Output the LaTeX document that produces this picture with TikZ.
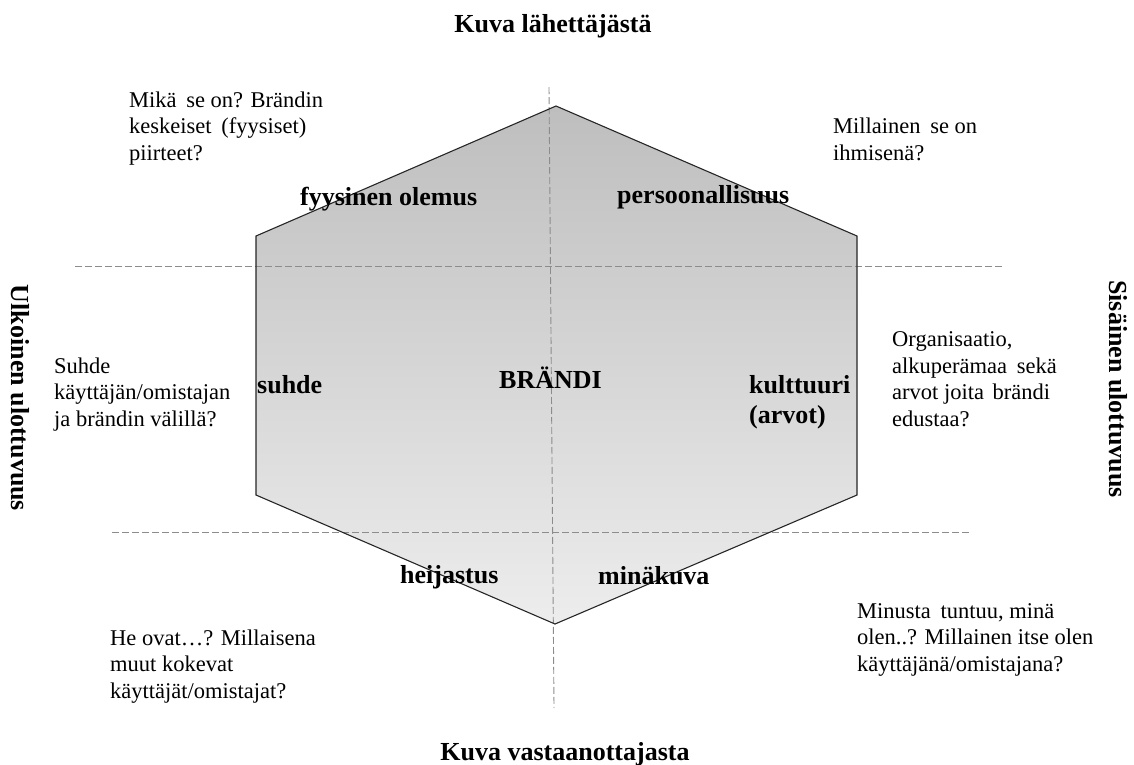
\documentclass[tikz,border=0pt]{standalone}
\usepackage{fontspec}
\setmainfont{Liberation Serif}
\definecolor{hextop}{RGB}{190,190,190}
\definecolor{hexbot}{RGB}{237,237,237}
\definecolor{guidegray}{RGB}{140,140,140}
\begin{document}
\begin{tikzpicture}[x=1pt,y=-1pt,
  hexedge/.style={draw=black!85, line width=1.1pt, line join=miter},
  guide/.style={draw=guidegray, line width=0.9pt, dash pattern=on 7pt off 3pt},
  heading/.style={font=\fontsize{26}{30}\selectfont\bfseries, inner sep=0pt},
  facet/.style={font=\fontsize{26}{30}\selectfont\bfseries, inner sep=0pt, anchor=base west, align=left},
  question/.style={font=\fontsize{22.5}{26.5}\selectfont, inner sep=0pt, anchor=base west, align=left},
]
\useasboundingbox (0,0) rectangle (1134,764);

% hexagon corners
\coordinate (T)  at (556,106);
\coordinate (UR) at (857,236);
\coordinate (LR) at (857,495);
\coordinate (B)  at (555,624);
\coordinate (LL) at (256,495);
\coordinate (UL) at (256,236);

% ends of the dashed axes
\coordinate (vtop) at (549,87);
\coordinate (vbot) at (554,708);
\coordinate (h1l) at (75,266);
\coordinate (h1r) at (1003,266);
\coordinate (h2l) at (112,532);
\coordinate (h2r) at (972,532);

% shaded prism
\shade[top color=hextop, bottom color=hexbot] (T) -- (UR) -- (LR) -- (B) -- (LL) -- (UL) -- cycle;

% dashed axes
\draw[guide] (vtop) -- (vbot);
\draw[guide] (h1l) -- (h1r);
\draw[guide] (h2l) -- (h2r);

% outline
\draw[hexedge] (T) -- (UR) -- (LR) -- (B) -- (LL) -- (UL) -- cycle;

% headings
\node[heading, anchor=base] (sender) at (553,32) {Kuva lähettäjästä};
\node[heading, anchor=base] (receiver) at (565,760) {Kuva vastaanottajasta};
\node[heading, rotate=-90] (outer) at (20,398) {Ulkoinen ulottuvuus};
\node[heading, rotate=-90] (inner) at (1118,389) {Sisäinen ulottuvuus};

% facets (multi-line nodes sit on the baseline of their last line)
\node[facet] (physique) at (300,205) {fyysinen olemus};
\node[facet] (personality) at (617,203) {persoonallisuus};
\node[facet] (relationship) at (257,393) {suhde};
\node[facet] (brand) at (499,388) {BRÄNDI};
\node[facet] (culture) at (749,423) {kulttuuri\\(arvot)};
\node[facet] (reflection) at (400,583) {heijastus};
\node[facet] (selfimage) at (598,584) {minäkuva};

% questions
\node[question] (qphysique) at (129,160) {Mikä\hspace{4pt} se on? Brändin\\keskeiset\hspace{4pt} (fyysiset)\\piirteet?};
\node[question] (qpersonality) at (833,160) {Millainen\hspace{4pt} se on\\ihmisenä?};
\node[question] (qrelationship) at (54,426) {Suhde\\käyttäjän/omistajan\\ja brändin välillä?};
\node[question] (qculture) at (892,426) {Organisaatio,\\alkuperämaa\hspace{4pt} sekä\\arvot joita\hspace{3pt} brändi\\edustaa?};
\node[question] (qreflection) at (110,698) {He ovat…? Millaisena\\muut kokevat\\käyttäjät/omistajat?};
\node[question] (qselfimage) at (857,671) {Minusta\hspace{4pt} tuntuu, minä\\olen..? Millainen itse olen\\käyttäjänä/omistajana?};
\end{tikzpicture}
\end{document}
